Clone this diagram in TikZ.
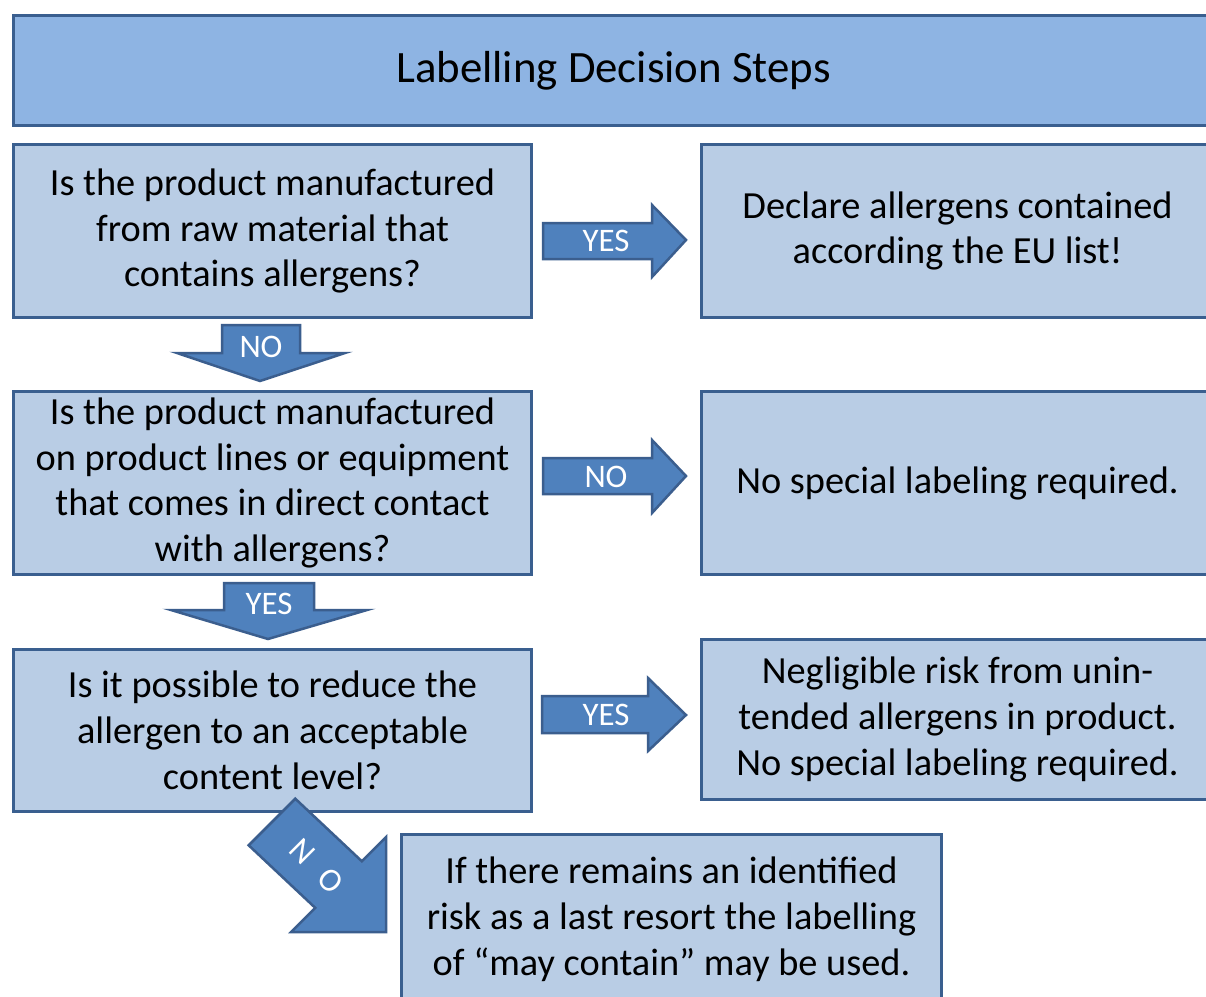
\documentclass[tikz,border=0pt]{standalone}
\usepackage{fontspec}
\setmainfont{Carlito}
\definecolor{bordc}{HTML}{3A5F8F}
\definecolor{boxf}{HTML}{B9CDE5}
\definecolor{titf}{HTML}{8EB4E3}
\definecolor{arrf}{HTML}{4F81BD}
\definecolor{arrd}{HTML}{3B5E8E}
\tikzset{
  box/.style={draw=bordc, fill=boxf, line width=3bp, align=center, inner sep=0pt,
    font=\fontsize{38.5}{46}\selectfont, text=black},
  blockarrow/.style={draw=arrd, fill=arrf, line width=2.5bp, line join=miter},
  arrlabel/.style={text=white, font=\fontsize{33}{33}\selectfont, inner sep=0pt}
}
\begin{document}
\begin{tikzpicture}[x=1bp,y=-1bp]
\useasboundingbox (0,0) rectangle (1206,997);
\clip (0,0) rectangle (1206,997);
\fill[white] (0,0) rectangle (1206,997);
% title
\node[box, fill=titf, minimum width=1200bp, minimum height=110bp, anchor=north west,
  font=\fontsize{45}{46}\selectfont] (title) at (12,14) {Labelling Decision Steps};
% question boxes
\node[box, minimum width=518bp, minimum height=173bp, anchor=north west] (q1) at (12,143)
  {Is the product manufactured\\from raw material that\\contains allergens?};
\node[box, minimum width=512bp, minimum height=173bp, anchor=north west] (a1) at (700,143)
  {Declare allergens contained\\according the EU list!};
\node[box, minimum width=518bp, minimum height=183bp, anchor=north west] (q2) at (12,390)
  {Is the product manufactured\\on product lines or equipment\\that comes in direct contact\\with allergens?};
\node[box, minimum width=512bp, minimum height=183bp, anchor=north west] (a2) at (700,390)
  {No special labeling required.};
\node[box, minimum width=518bp, minimum height=162bp, anchor=north west] (q3) at (12,648)
  {Is it possible to reduce the\\allergen to an acceptable\\content level?};
\node[box, minimum width=512bp, minimum height=160bp, anchor=north west] (a3) at (700,638)
  {Negligible risk from unin-\\tended allergens in product.\\No special labeling required.};
\node[box, minimum width=540bp, minimum height=170bp, anchor=north west] (q4) at (400,833)
  {If there remains an identified\\risk as a last resort the labelling\\of \textquotedblleft may contain\textquotedblright\ may be used.};
% right arrows
\draw[blockarrow] (543,223) -- (652,223) -- (652,205) -- (686,240) -- (652,277) -- (652,259) -- (543,259) -- cycle;
\node[arrlabel] (l1) at (606,241) {YES};
\draw[blockarrow] (543,458) -- (652,458) -- (652,440) -- (686,476) -- (652,513) -- (652,494) -- (543,494) -- cycle;
\node[arrlabel] (l2) at (606,477) {NO};
\draw[blockarrow] (542,696) -- (648,696) -- (648,678) -- (686,715) -- (648,751) -- (648,733) -- (542,733) -- cycle;
\node[arrlabel] (l3) at (606,715) {YES};
% down arrows
\draw[blockarrow] (222,325) -- (300,325) -- (300,353) -- (345,353) -- (260,381) -- (177,353) -- (222,353) -- cycle;
\node[arrlabel] (l4) at (261,347) {NO};
\draw[blockarrow] (224,583) -- (314,583) -- (314,610) -- (367,610) -- (268,639) -- (171,610) -- (224,610) -- cycle;
\node[arrlabel] (l5) at (269,604) {YES};
% diagonal arrow
\draw[blockarrow] (295.3,798.7) -- (361.9,861.3) -- (386,837.2) -- (386,932) -- (291.2,932) -- (315.3,907.9) -- (248.7,845.3) -- cycle;
\node[arrlabel, rotate=-45] (l6n) at (302,852) {N};
\node[arrlabel, rotate=-45] (l6o) at (331,881) {O};
\end{tikzpicture}
\end{document}
